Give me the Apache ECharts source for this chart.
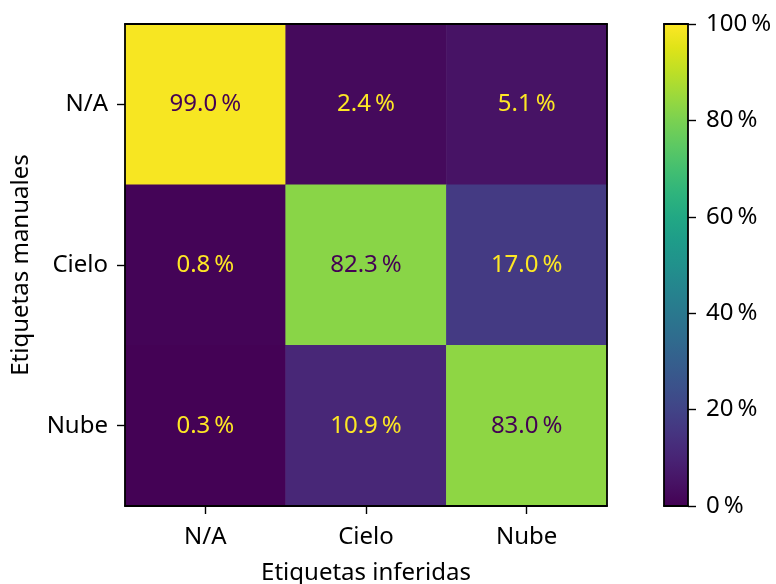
<!DOCTYPE html>
<html>
<head>
<meta charset="utf-8">
<script src="https://cdn.jsdelivr.net/npm/echarts@6/dist/echarts.min.js"></script>
<style>
  html, body { margin: 0; padding: 0; background: #fff; }
  #chart { width: 776px; height: 584px; }
</style>
</head>
<body>
<div id="chart"></div>
<script>
// etiquetas
const inferidas = ["N/A", "Cielo", "Nube"];
const manuales = ["N/A", "Cielo", "Nube"];
// filas = etiquetas manuales, columnas = etiquetas inferidas (%)
const filaNA = [99.0, 2.4, 5.1];
const filaCielo = [0.8, 82.3, 17.0];
const filaNube = [0.3, 10.9, 83.0];
const barraTicks = [0, 20, 40, 60, 80, 100];

const viridis = [
  "#440154", "#471365", "#482475", "#463480", "#414487", "#3b528b",
  "#355f8d", "#2f6c8e", "#2a788e", "#25848e", "#21918c", "#1e9c89",
  "#22a884", "#2fb47c", "#44bf70", "#5ec962", "#7ad151", "#9bd93c",
  "#bddf26", "#dfe318", "#fde725"
];

const FONT = "Noto Sans";
const FS = 24;
const filas = [filaNA, filaCielo, filaNube];
const datos = [];
filas.forEach((fila, y) => {
  fila.forEach((v, x) => datos.push([x, y, v]));
});

const marco = { show: true, onZero: false, lineStyle: { color: "#000", width: 1.8 } };
const tick = { show: true, alignWithLabel: true, length: 8, lineStyle: { color: "#000", width: 1.4 } };
// eje solo para el borde
const borde = (extra) => Object.assign({
  z: 5,
  axisLine: marco,
  axisTick: { show: false },
  axisLabel: { show: false },
  splitLine: { show: false },
}, extra);

let myChart = echarts.init(document.getElementById("chart"));
myChart.setOption({
  animation: false,
  textStyle: { fontFamily: FONT },
  grid: [
    { left: 125, top: 24, width: 482, height: 482, outerBoundsMode: "none", containLabel: false },
    { left: 664, top: 24, width: 24, height: 482, outerBoundsMode: "none", containLabel: false },
  ],
  xAxis: [
    {
      type: "category",
      data: inferidas,
      gridIndex: 0,
      position: "bottom",
      z: 5,
      name: "Etiquetas inferidas",
      nameLocation: "middle",
      nameGap: 55,
      nameTextStyle: { color: "#000", fontSize: FS, fontFamily: FONT },
      axisLine: marco,
      axisTick: tick,
      axisLabel: { color: "#000", fontSize: FS, margin: 19 },
      splitLine: { show: false },
    },
    borde({ type: "category", data: inferidas, gridIndex: 0, position: "top" }),
    borde({ type: "category", data: [""], gridIndex: 1, position: "bottom" }),
    borde({ type: "category", data: [""], gridIndex: 1, position: "top" }),
  ],
  yAxis: [
    {
      type: "category",
      data: manuales,
      inverse: true,
      gridIndex: 0,
      position: "left",
      z: 5,
      name: "Etiquetas manuales",
      nameLocation: "middle",
      nameGap: 92,
      nameRotate: 90,
      nameTextStyle: { color: "#000", fontSize: FS, fontFamily: FONT },
      axisLine: marco,
      axisTick: tick,
      axisLabel: { color: "#000", fontSize: FS, margin: 17 },
      splitLine: { show: false },
    },
    borde({ type: "category", data: manuales, inverse: true, gridIndex: 0, position: "right" }),
    {
      type: "value",
      gridIndex: 1,
      position: "right",
      min: 0,
      max: 100,
      interval: 20,
      z: 5,
      axisLine: marco,
      axisTick: { show: true, length: 8, lineStyle: { color: "#000", width: 1.4 } },
      axisLabel: {
        color: "#000", fontSize: FS, margin: 18,
        formatter: (v) => (barraTicks.includes(v) ? v + "\u2009%" : ""),
      },
      splitLine: { show: false },
    },
    borde({ type: "value", gridIndex: 1, position: "left", min: 0, max: 100 }),
  ],
  visualMap: {
    show: false,
    min: 0,
    max: 100,
    seriesIndex: 0,
    inRange: { color: viridis },
  },
  series: [
    {
      type: "heatmap",
      xAxisIndex: 0,
      yAxisIndex: 0,
      data: datos.map((d) => ({
        value: d,
        label: { color: d[2] > 50 ? "#440154" : "#fde725" },
      })),
      label: {
        show: true,
        fontSize: FS,
        fontFamily: FONT,
        formatter: (p) => p.value[2].toFixed(1) + "\u2009%",
      },
      emphasis: { disabled: true },
    },
    {
      type: "bar",
      xAxisIndex: 2,
      yAxisIndex: 2,
      data: [100],
      barWidth: "100%",
      silent: true,
      itemStyle: {
        color: new echarts.graphic.LinearGradient(
          0, 1, 0, 0,
          viridis.map((c, i) => ({ offset: i / (viridis.length - 1), color: c }))
        ),
      },
    },
  ],
});
</script>
</body>
</html>
